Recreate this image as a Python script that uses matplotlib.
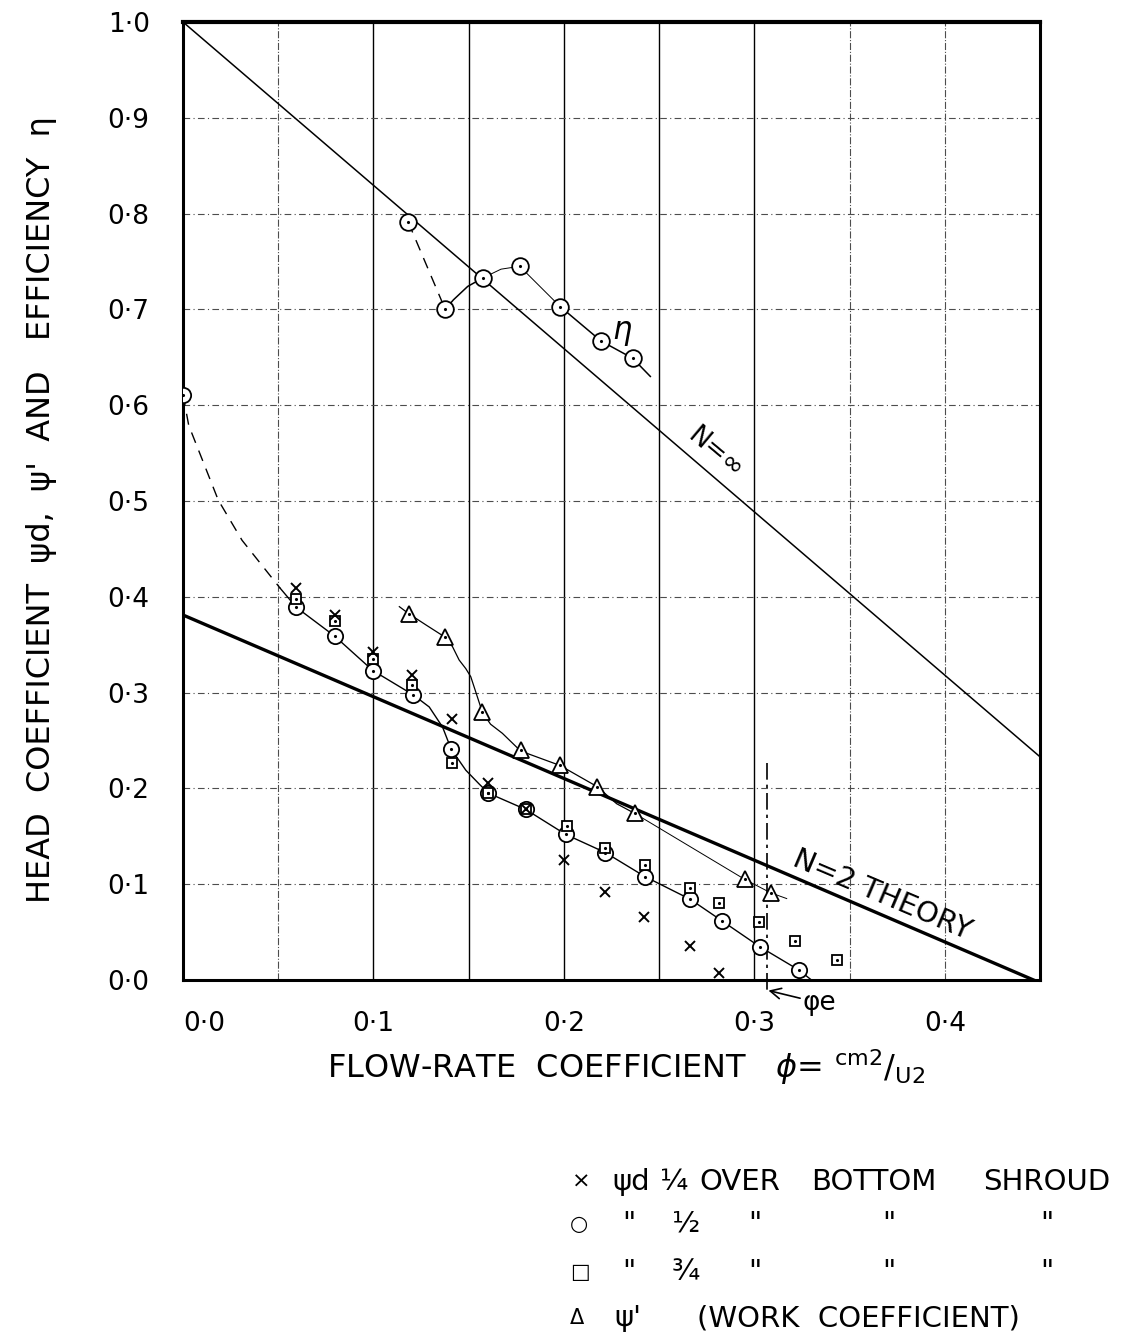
import numpy as np
import matplotlib
matplotlib.use("Agg")
import matplotlib.pyplot as plt

plt.rcParams['font.family'] = ['DejaVu Sans']
plt.rcParams['mathtext.fontset'] = 'dejavusans'

# ---- data ----
# efficiency eta
phi_eta = [0.1183, 0.1377, 0.1576, 0.1768, 0.1980, 0.2195, 0.2361]
eta = [0.791, 0.700, 0.733, 0.745, 0.703, 0.667, 0.649]

# psi_d, 1/4 over bottom shroud (crosses)
phi_cross = [0.0592, 0.0796, 0.0997, 0.1200, 0.1410, 0.1604, 0.1800, 0.2000, 0.2217, 0.2422, 0.2664, 0.2815]
psi_cross = [0.409, 0.381, 0.342, 0.318, 0.272, 0.206, 0.178, 0.125, 0.092, 0.066, 0.0355, 0.0077]

# psi_d, 1/2 (circles)
phi_circ = [0.0, 0.0595, 0.0796, 0.0997, 0.1210, 0.1408, 0.1604, 0.1800, 0.2009, 0.2218, 0.2425, 0.2664, 0.2828, 0.3028, 0.3234]
psi_circ = [0.611, 0.389, 0.359, 0.323, 0.2975, 0.241, 0.195, 0.178, 0.152, 0.133, 0.108, 0.0842, 0.062, 0.0348, 0.0104]

# psi_d, 3/4 (squares)
phi_sq = [0.0592, 0.0796, 0.0997, 0.1200, 0.1410, 0.1604, 0.1800, 0.2017, 0.2218, 0.2427, 0.2664, 0.2814, 0.3026, 0.3215, 0.3432]
psi_sq = [0.398, 0.375, 0.335, 0.308, 0.226, 0.195, 0.178, 0.161, 0.138, 0.120, 0.096, 0.0807, 0.061, 0.0407, 0.0209]

# psi' work coefficient (triangles)
phi_tri = [0.1188, 0.1375, 0.1572, 0.1773, 0.1979, 0.2175, 0.2371, 0.2950, 0.3086]
psi_tri = [0.382, 0.358, 0.2794, 0.240, 0.224, 0.2018, 0.174, 0.105, 0.091]

# hand drawn curve paths
psid_dash_x = [0.0, 0.003, 0.0185, 0.031, 0.051]
psid_dash_y = [0.611, 0.579, 0.501, 0.459, 0.409]
psid_curve_x = [0.051, 0.0595, 0.0796, 0.0997, 0.121, 0.1293, 0.1363, 0.1408, 0.1485, 0.1555, 0.1604,
                0.18, 0.2009, 0.2218, 0.2425, 0.2664, 0.2828, 0.3028, 0.3234, 0.330]
psid_curve_y = [0.409, 0.389, 0.359, 0.323, 0.2975, 0.285, 0.264, 0.241, 0.219, 0.2046, 0.195,
                0.178, 0.152, 0.133, 0.108, 0.0842, 0.062, 0.0348, 0.0104, 0.0]
work_curve_x = [0.1136, 0.1188, 0.1276, 0.1375, 0.1415, 0.1450, 0.1485, 0.1511, 0.1540, 0.1572,
                0.1615, 0.1677, 0.1773, 0.1979, 0.2175, 0.2277, 0.2371]
work_curve_y = [0.3897, 0.382, 0.3706, 0.358, 0.348, 0.334, 0.325, 0.3166, 0.299, 0.2794,
                0.267, 0.2575, 0.239, 0.224, 0.2018, 0.184, 0.174]
work_tail_x = [0.2371, 0.2950, 0.3086, 0.317]
work_tail_y = [0.174, 0.105, 0.091, 0.085]
eta_rise_x = [0.1377, 0.142, 0.1495, 0.1576]
eta_rise_y = [0.700, 0.710, 0.724, 0.733]
eta_hump_x = [0.1576, 0.167, 0.1768, 0.1980]
eta_hump_y = [0.733, 0.742, 0.745, 0.703]
eta_tail_x = [0.1980, 0.2195, 0.2361, 0.2454]
eta_tail_y = [0.703, 0.667, 0.649, 0.630]

# theory lines
n_inf_x = [0.0, 0.45]
n_inf_y = [1.0, 0.233]
n_two_x = [0.0, 0.4466]
n_two_y = [0.381, 0.0]

phi_e = 0.3064

xtick_vals = [0.0, 0.1, 0.2, 0.3, 0.4]
xtick_text = ["0·0", "0·1", "0·2", "0·3", "0·4"]
ytick_vals = [0.0, 0.1, 0.2, 0.3, 0.4, 0.5, 0.6, 0.7, 0.8, 0.9, 1.0]
ytick_text = ["0·0", "0·1", "0·2", "0·3", "0·4", "0·5", "0·6", "0·7", "0·8", "0·9", "1·0"]

W, H = 1136, 1343
fig = plt.figure(figsize=(W / 100, H / 100), dpi=100)
ax = fig.add_axes([183 / W, 1 - 980 / H, (1040 - 183) / W, (980 - 22) / H])
ax.set_xlim(0, 0.45)
ax.set_ylim(0, 1.0)

# grid
for v in np.arange(0.05, 0.45, 0.05):
    if 0.09 < v < 0.31:
        ax.axvline(v, color='k', lw=1.0, zorder=1)
    else:
        ax.axvline(v, color='0.3', lw=0.8, ls='-.', zorder=1)
for h in np.arange(0.1, 1.0, 0.1):
    ax.axhline(h, color='0.3', lw=0.8, ls=(0, (6, 3, 1, 3)), zorder=1)

for s in ax.spines.values():
    s.set_linewidth(2.2)
ax.spines['top'].set_linewidth(3)

# theory lines
ax.plot(n_inf_x, n_inf_y, color='k', lw=1.1)
ax.plot(n_two_x, n_two_y, color='k', lw=2.4)

# curves
ax.plot(psid_dash_x, psid_dash_y, color='k', lw=1.0, ls=(0, (8, 6)))
ax.plot(psid_curve_x, psid_curve_y, color='k', lw=1.0)
ax.plot(work_curve_x, work_curve_y, color='k', lw=0.9)
ax.plot(work_tail_x, work_tail_y, color='k', lw=0.7)
ax.plot(phi_eta[:2], eta[:2], color='k', lw=1.0, ls=(0, (8, 6)))
ax.plot(eta_rise_x, eta_rise_y, color='k', lw=1.1)
ax.plot(eta_hump_x, eta_hump_y, color='k', lw=0.7)
ax.plot(eta_tail_x, eta_tail_y, color='k', lw=1.1)

# markers
def dotted(x, y, m, ms):
    ax.plot(x, y, m, mfc='white', mec='k', ms=ms, mew=1.3, ls='none', zorder=4)
    ax.plot(x, y, '.', color='k', ms=2.5, ls='none', zorder=5)

dotted(phi_eta, eta, 'o', 12)
dotted(phi_circ, psi_circ, 'o', 11)
dotted(phi_sq, psi_sq, 's', 7.5)
dotted(phi_tri, psi_tri, '^', 11)
ax.plot(phi_cross, psi_cross, 'x', color='k', ms=7, mew=1.4, ls='none', zorder=6)

# phi_e marker line
ax.plot([phi_e, phi_e], [0.226, -0.014], color='k', lw=1.2, ls=(0, (10, 3, 2, 3)), clip_on=False, zorder=3)
ax.annotate("φe", xy=(phi_e + 0.001, -0.011), xytext=(0.3255, -0.024), fontsize=19,
            ha='left', va='center', annotation_clip=False,
            arrowprops=dict(arrowstyle='->', color='k', lw=1.2, shrinkA=0, shrinkB=0))

# line labels
ax.text(0.2794, 0.550, "N=∞", fontsize=19, rotation=-40, ha='center', va='center')
ax.text(0.367, 0.089, "N=2 THEORY", fontsize=21, rotation=-23, ha='center', va='center')
ax.text(0.2304, 0.677, "η", fontsize=22, ha='center', va='center', style='italic')

# ticks
ax.set_xticks(xtick_vals)
ax.set_xticklabels(xtick_text, fontsize=19)
ax.set_yticks(ytick_vals)
ax.set_yticklabels(ytick_text, fontsize=19)
ax.tick_params(length=0)
ax.tick_params(axis='x', pad=22)
ax.tick_params(axis='y', pad=24)
ax.get_xticklabels()[0].set_horizontalalignment('left')

fig.text(626 / W, 1 - 1067 / H,
         r"FLOW-RATE  COEFFICIENT   $\phi$= $^{\mathrm{cm2}}/_{\mathrm{U2}}$",
         fontsize=23, ha='center', va='center')
fig.text(42 / W, 1 - 510 / H, "HEAD  COEFFICIENT  ψd,  ψ'  AND   EFFICIENCY  η",
         fontsize=23, rotation=90, ha='center', va='center')

# hand lettered key
rows = [1182, 1224, 1272, 1318]
fs = 21
def key(x, row, s, size=fs, ha='left'):
    fig.text(x / W, 1 - row / H, s, fontsize=size, ha=ha, va='center')

key(572, rows[0], "×", 16)
key(612, rows[0], "ψd", fs)
key(660, rows[0], "¼", fs)
key(740, rows[0], "OVER", fs, 'center')
key(874, rows[0], "BOTTOM", fs, 'center')
key(1047, rows[0], "SHROUD", fs, 'center')

key(570, rows[1], "○", 15)
key(570, rows[2], "□", 15)
for r, frac in ((rows[1], "½"), (rows[2], "¾")):
    key(622, r, '"', fs)
    key(672, r, frac, fs)
    key(748, r, '"', fs)
    key(882, r, '"', fs)
    key(1040, r, '"', fs)

key(570, rows[3], "Δ", 15)
key(614, rows[3], "ψ'", fs)
key(858, rows[3], "(WORK  COEFFICIENT)", fs, 'center')

fig.savefig("out.png", dpi=100)
